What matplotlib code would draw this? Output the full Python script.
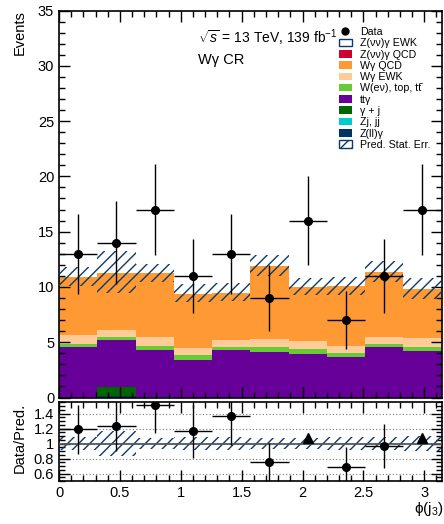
import numpy as np
import matplotlib
matplotlib.use('Agg')
import matplotlib.pyplot as plt
from matplotlib.patches import Patch
from matplotlib.lines import Line2D
from matplotlib.ticker import MultipleLocator, FixedLocator

plt.rcParams['font.family'] = ['Liberation Sans', 'DejaVu Sans']
plt.rcParams['mathtext.fontset'] = 'custom'
plt.rcParams['mathtext.rm'] = 'Liberation Sans'
plt.rcParams['mathtext.it'] = 'Liberation Sans:italic'
plt.rcParams['mathtext.bf'] = 'Liberation Sans:bold'
plt.rcParams['hatch.linewidth'] = 1.0

# ---------------- data ----------------
n_bins = 10
x_range = (0.0, np.pi)

data = [13, 14, 17, 11, 13, 9, 16, 7, 11, 17]
data_err = [3.6, 3.74, 4.12, 3.32, 3.6, 3.0, 4.0, 2.65, 3.32, 4.12]

# stacked backgrounds (bottom -> top)
zll_gamma = [0.0, 0.18, 0.0, 0.0, 0.06, 0.0, 0.06, 0.0, 0.0, 0.0]
zj_jj = [0.0, 0.0, 0.08, 0.0, 0.0, 0.0, 0.0, 0.0, 0.0, 0.0]
gamma_j = [0.0, 0.75, 0.0, 0.0, 0.0, 0.0, 0.0, 0.0, 0.0, 0.0]
tt_gamma = [4.57, 4.27, 4.19, 3.43, 4.24, 4.15, 3.91, 3.67, 4.54, 4.24]
wenu_top_tt = [0.30, 0.27, 0.42, 0.39, 0.24, 0.42, 0.45, 0.39, 0.30, 0.30]
wgamma_ewk = [0.75, 0.66, 0.78, 0.69, 0.69, 0.75, 0.72, 0.63, 0.66, 0.84]
wgamma_qcd = [5.27, 5.14, 5.75, 4.88, 4.25, 6.57, 4.87, 5.35, 5.86, 4.41]
zvv_gamma_qcd = [0.01, 0.01, 0.01, 0.01, 0.01, 0.01, 0.01, 0.01, 0.01, 0.01]
zvv_gamma_ewk = [0.05, 0.05, 0.05, 0.05, 0.05, 0.05, 0.05, 0.05, 0.05, 0.05]

pred_stat_err = [0.88, 1.9, 0.8, 0.8, 0.8, 0.95, 0.78, 0.82, 0.93, 0.93]

# ratio points beyond the axis range, shown as triangles
arrow_bins = [6, 9]
arrow_y = [1.07, 1.07]

labels_stack = ['Z(ll)γ', 'Zj, jj', 'γ + j', 'ttγ', 'W(eν), top, tt\u0304',
                'Wγ EWK', 'Wγ QCD', 'Z(νν)γ QCD', 'Z(νν)γ EWK']
colors_stack = ['#003366', '#00cccc', '#006600', '#660099', '#66cc33',
                '#ffcc99', '#ff9933', '#cc0033', '#ffffff']
components = [zll_gamma, zj_jj, gamma_j, tt_gamma, wenu_top_tt,
              wgamma_ewk, wgamma_qcd, zvv_gamma_qcd, zvv_gamma_ewk]

navy = '#0b3a6a'

# ---------------- figure ----------------
W, H = 444, 524
fig = plt.figure(figsize=(W / 100, H / 100), dpi=100)


def axes_px(l, t, r, b):
    return fig.add_axes([l / W, 1 - b / H, (r - l) / W, (b - t) / H])


ax = axes_px(59, 10.5, 441.5, 397.5)
rax = axes_px(59, 401.5, 441.5, 481)

edges = np.linspace(x_range[0], x_range[1], n_bins + 1)
centers = 0.5 * (edges[:-1] + edges[1:])
binw = edges[1] - edges[0]

bottom = np.zeros(n_bins)
for vals, col in zip(components, colors_stack):
    vals = np.asarray(vals, float)
    ax.stairs(bottom + vals, edges, baseline=bottom.copy(), fill=True,
              facecolor=col, edgecolor='none', linewidth=0)
    bottom = bottom + vals
total = bottom
err = np.asarray(pred_stat_err)

ax.bar(centers, 2 * err, bottom=total - err, width=binw, color='none',
       edgecolor=navy, hatch='///', linewidth=0, zorder=3)

ax.errorbar(centers, data, yerr=data_err, xerr=binw / 2, fmt='o', color='black',
            ms=5.5, elinewidth=1.0, capsize=0, zorder=5)

ax.set_xlim(*x_range)
ax.set_ylim(0, 35)
ax.yaxis.set_major_locator(MultipleLocator(5))
ax.yaxis.set_minor_locator(MultipleLocator(1))
ax.xaxis.set_major_locator(MultipleLocator(0.5))
ax.xaxis.set_minor_locator(MultipleLocator(0.1))
ax.tick_params(labelbottom=False)
ax.set_ylabel('Events', fontsize=10.5, loc='top')
ax.yaxis.set_label_coords(-0.085, 1.0)

# ---------------- ratio ----------------
data_a = np.asarray(data, float)
ratio = data_a / total
ratio_err = np.asarray(data_err) / total
rel = err / total

for y in [0.6, 0.8, 1.2, 1.4]:
    rax.axhline(y, ls=(0, (1, 2)), color='#777777', lw=0.8, zorder=1)
rax.bar(centers, 2 * rel, bottom=1 - rel, width=binw, color='none',
        edgecolor=navy, hatch='///', linewidth=0, zorder=2)
rax.axhline(1.0, color='#555555', lw=1.3, zorder=3)

mask = np.ones(n_bins, bool)
mask[arrow_bins] = False
rax.errorbar(centers[mask], ratio[mask], yerr=ratio_err[mask], xerr=binw / 2,
             fmt='o', color='black', ms=5.5, elinewidth=1.0, capsize=0, zorder=5)
rax.plot(centers[arrow_bins], arrow_y, '^', color='black', ms=6.5, zorder=5)

rax.set_xlim(*x_range)
rax.set_ylim(0.5, 1.56)
rax.yaxis.set_major_locator(FixedLocator([0.6, 0.8, 1.0, 1.2, 1.4]))
rax.set_yticklabels(['0.6', '0.8', '1', '1.2', '1.4'])
rax.yaxis.set_minor_locator(MultipleLocator(0.05))
rax.xaxis.set_major_locator(MultipleLocator(0.5))
rax.xaxis.set_minor_locator(MultipleLocator(0.1))
rax.set_xticks([0, 0.5, 1, 1.5, 2, 2.5, 3])
rax.set_xticklabels(['0', '0.5', '1', '1.5', '2', '2.5', '3'])
rax.set_ylabel('Data/Pred.', fontsize=10.5, loc='top')
rax.yaxis.set_label_coords(-0.085, 0.98)
rax.set_xlabel(r'$\mathrm{\phi(j}_{3}\mathrm{)}$', fontsize=11, loc='right')
rax.xaxis.set_label_coords(1.005, -0.24)

for a in (ax, rax):
    a.tick_params(which='both', direction='in', top=True, right=True, width=1.0,
                  labelsize=10.5)
    a.tick_params(which='major', length=8)
    a.tick_params(which='minor', length=4)
    for s in a.spines.values():
        s.set_linewidth(1.2)

# ---------------- legend & text ----------------
handles = [Line2D([], [], marker='o', color='black', ls='none', ms=5)]
labels = ['Data']
for lab, col in reversed(list(zip(labels_stack, colors_stack))):
    if lab == 'Z(νν)γ EWK':
        handles.append(Patch(facecolor='white', edgecolor=navy, linewidth=1))
    else:
        handles.append(Patch(facecolor=col, edgecolor='none'))
    labels.append(lab)
handles.append(Patch(facecolor='white', edgecolor=navy, hatch='///', linewidth=1))
labels.append('Pred. Stat. Err.')

fig.legend(handles, labels, loc='upper left', bbox_to_anchor=(339 / W, 1 - 27 / H),
           frameon=False, fontsize=7.7, handlelength=1.2, handleheight=0.7,
           handletextpad=0.75, labelspacing=0.12, borderpad=0, borderaxespad=0)

fig.text(198 / W, 1 - 38 / H, r'$\sqrt{s}$ = 13 TeV, 139 fb$^{-1}$', fontsize=10,
         va='center', ha='left')
fig.text(198 / W, 1 - 60 / H, 'Wγ CR', fontsize=10.5, va='center', ha='left')

fig.savefig('out.png', dpi=100)
